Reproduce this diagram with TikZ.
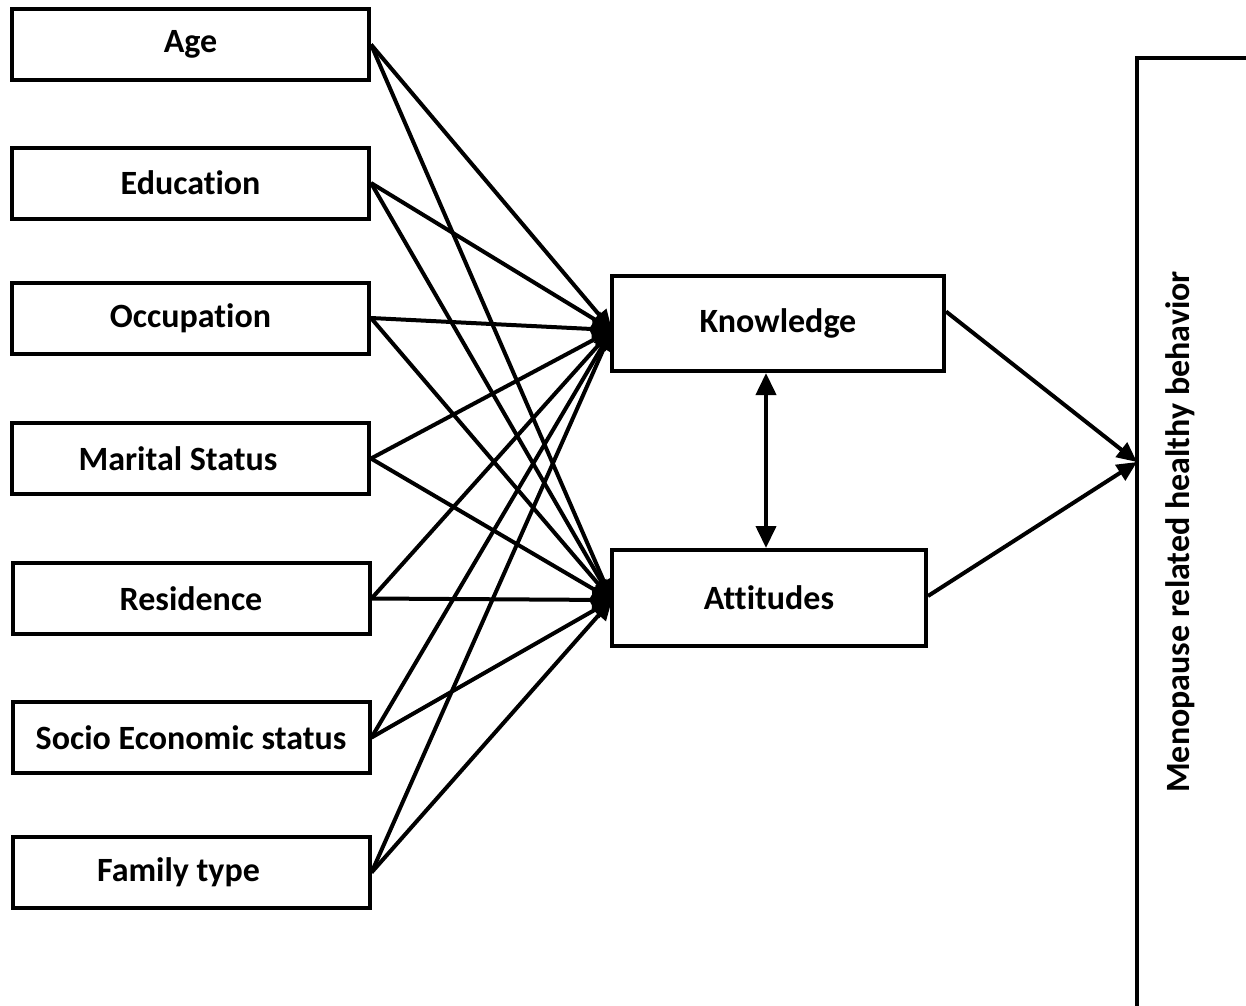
\documentclass[tikz,border=0pt]{standalone}
\usepackage{fontspec}
\setmainfont[Ligatures=NoCommon]{Carlito}
\usetikzlibrary{arrows.meta}
\begin{document}
\begin{tikzpicture}[x=1pt,y=-1pt,
  box/.style={draw=black,line width=4pt,fill=white,minimum width=357pt,minimum height=71pt,inner sep=0pt,font=\fontsize{34}{40}\selectfont\bfseries},
  mid/.style={draw=black,line width=4pt,fill=white,minimum height=95pt,inner sep=0pt,font=\fontsize{34}{40}\selectfont\bfseries},
  conn/.style={line width=4pt,-{Triangle[length=20pt,width=18pt]}},
  dbl/.style={line width=4pt,{Triangle[length=22pt,width=20pt]}-{Triangle[length=22pt,width=20pt]}}]
\useasboundingbox (0,0) rectangle (1246,1005);
\clip (0,0) rectangle (1246,1005);
\node[box] (age) at (190.5,44.5) {Age};
\node[box] (edu) at (190.5,183) {Education};
\node[box] (occ) at (190.5,318) {Occupation};
\node[box] (mar) at (190.5,458.5) {Marital Status\hspace*{25pt}};
\node[box] (res) at (191,598.5) {Residence};
\node[box] (soc) at (191,737.5) {Socio Economic status};
\node[box] (fam) at (191,872.5) {Family type\hspace*{25pt}};
\node[mid,minimum width=332pt] (know) at (778,323.5) {Knowledge};
\node[mid,minimum width=314pt,minimum height=96pt] (att) at (769,598) {Attitudes};
\draw[line width=4pt,fill=white] (1137,58) rectangle (1270,1030);
\node[font=\fontsize{34}{40}\selectfont\bfseries,rotate=90] (beh) at (1180,532) {Menopause related healthy behavior};
\coordinate (kin) at (612,330);
\coordinate (ain) at (612,600);
\coordinate (bin) at (1137,462);
\foreach \s in {age,edu,occ,mar,res,soc,fam}{
  \draw[conn] (\s.east) -- (kin);
  \draw[conn] (\s.east) -- (ain);
}
\draw[conn] ([yshift=12pt]know.east) -- (bin);
\draw[conn] ([yshift=2pt]att.east) -- (bin);
\draw[dbl] ([xshift=-12pt]know.south) -- ([xshift=-3pt]att.north);
\end{tikzpicture}
\end{document}
